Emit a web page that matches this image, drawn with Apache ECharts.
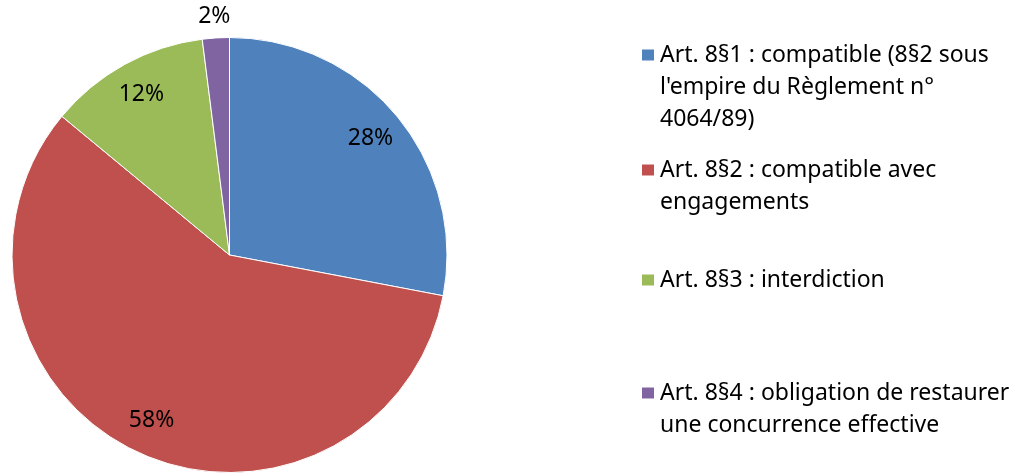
<!DOCTYPE html>
<html>
<head>
<meta charset="utf-8">
<script src="https://cdn.jsdelivr.net/npm/echarts@6/dist/echarts.min.js"></script>
<style>
html,body{margin:0;padding:0;background:#fff;}
#chart{width:1022px;height:474px;}
</style>
</head>
<body>
<div id="chart"></div>
<script>
const categories = [
  "Art. 8§1 : compatible (8§2 sous l'empire du Règlement n° 4064/89)",
  "Art. 8§2 : compatible avec engagements",
  "Art. 8§3 : interdiction",
  "Art. 8§4 : obligation de restaurer une concurrence effective"
];
const legendLines = [
  ["Art. 8§1 : compatible (8§2 sous", "l'empire du Règlement n°", "4064/89)"],
  ["Art. 8§2 : compatible avec", "engagements"],
  ["Art. 8§3 : interdiction"],
  ["Art. 8§4 : obligation de restaurer", "une concurrence effective"]
];
const values = [28, 58, 12, 2];
const colors = ['#4F81BD', '#C0504D', '#9BBB59', '#8064A2'];

const FONT = '"Noto Sans"';
const LH = 32;
const markerY = [55, 170, 280, 393];
const center = [229.5, 255];
const R = 217.5;

const legends = categories.map(function (name, i) {
  const n = legendLines[i].length;
  // leading empty lines so that the marker sits beside the first line
  const lead = new Array(n).join('\n');
  return {
    data: [name],
    orient: 'vertical',
    left: 640,
    top: markerY[i] - (2 * n - 1) * LH / 2,
    padding: 0,
    itemWidth: 14,
    itemHeight: 13,
    icon: 'rect',
    selectedMode: false,
    formatter: function () { return lead + legendLines[i].join('\n'); },
    textStyle: {
      fontFamily: FONT,
      fontSize: 23,
      color: '#000',
      lineHeight: LH
    }
  };
});

const mainData = categories.map(function (name, i) {
  return { name: name, value: values[i], itemStyle: { color: colors[i] } };
});
const labelData = categories.map(function (name, i) {
  const d = { name: name, value: values[i] };
  if (i === 3) {
    d.label = { position: 'outside', distanceToLabelLine: -16 };
  }
  return d;
});

const chart = echarts.init(document.getElementById('chart'), null, { renderer: 'canvas' });
chart.setOption({
  animation: false,
  color: colors,
  legend: legends,
  series: [
    {
      type: 'pie',
      center: center,
      radius: R,
      startAngle: 90,
      clockwise: true,
      silent: true,
      label: { show: false },
      labelLine: { show: false },
      itemStyle: { borderColor: '#fff', borderWidth: 1 },
      data: mainData
    },
    {
      type: 'pie',
      center: center,
      radius: [142.5, R],
      startAngle: 90,
      clockwise: true,
      silent: true,
      avoidLabelOverlap: false,
      itemStyle: { color: 'rgba(0,0,0,0)', borderWidth: 0 },
      emphasis: { disabled: true },
      label: {
        show: true,
        position: 'inside',
        formatter: '{d}%',
        fontFamily: FONT,
        fontSize: 23,
        color: '#000'
      },
      labelLine: { show: false, length: 22, length2: 0 },
      data: labelData
    }
  ]
});
</script>
</body>
</html>
